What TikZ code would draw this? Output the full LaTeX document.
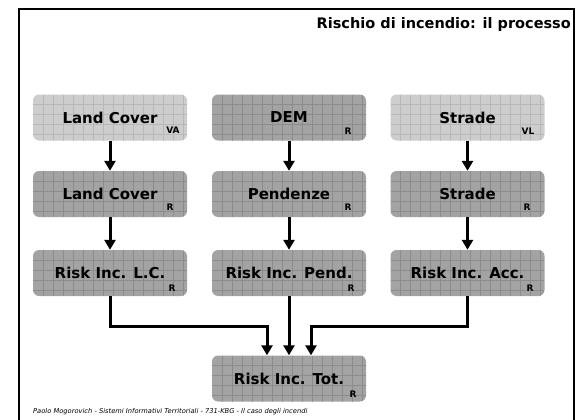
\documentclass[tikz,border=0pt]{standalone}
\usepackage{fontspec}
\setmainfont{DejaVu Sans}
\usetikzlibrary{arrows.meta}
\definecolor{lightfill}{RGB}{205,205,205}
\definecolor{lightgrid}{RGB}{184,184,184}
\definecolor{darkfill}{RGB}{163,163,163}
\definecolor{darkgrid}{RGB}{140,140,140}
\newcommand\boxgridlines[1]{%
  \foreach \k in {1,...,15}{\draw[#1,line width=0.7pt] ([xshift=\k*10pt]path picture bounding box.north west) -- ([xshift=\k*10pt]path picture bounding box.south west);}%
  \foreach \k in {1,...,4}{\draw[#1,line width=0.7pt] ([yshift=-\k*10pt]path picture bounding box.north west) -- ([yshift=-\k*10pt]path picture bounding box.north east);}%
}
\tikzset{
  gisbox/.style={draw=none, rounded corners=6pt, minimum width=154pt, minimum height=46pt,
    inner sep=0pt, font=\fontsize{15}{15}\selectfont\bfseries},
  lightbox/.style={gisbox, fill=lightfill, path picture={\boxgridlines{lightgrid}}},
  darkbox/.style={gisbox, fill=darkfill, path picture={\boxgridlines{darkgrid}}},
  subtag/.style={inner sep=0pt, font=\fontsize{9}{9}\selectfont\bfseries},
  arr/.style={line width=3pt, -{Triangle[length=10pt,width=11pt]}},
  frameline/.style={line width=2.5pt, black},
}
\begin{document}
\begin{tikzpicture}[x=1pt,y=-1pt]
\useasboundingbox (0,0) rectangle (581,420);
% frame
\draw[frameline] (19,420) -- (19,9);
\draw[frameline] (574,9) -- (574,420);
\draw[line width=1.5pt] (18,9) -- (575,9);
% title
\node[anchor=base east, inner sep=0pt, font=\fontsize{14.5}{14.5}\selectfont\bfseries] (title) at (571,29) {Rischio di incendio: il processo};
% row 1
\node[lightbox] (lcva) at (110,117.5) {Land Cover};
\node[darkbox] (dem) at (289,117.5) {DEM};
\node[lightbox] (strvl) at (467.5,117.5) {Strade};
% row 2
\node[darkbox] (lcr) at (110,194) {Land Cover};
\node[darkbox] (pend) at (289,194) {Pendenze};
\node[darkbox] (strr) at (467.5,194) {Strade};
% row 3
\node[darkbox] (rlc) at (110,273) {Risk Inc. L.C.};
\node[darkbox] (rpend) at (289,273) {Risk Inc. Pend.};
\node[darkbox] (racc) at (467.5,273) {Risk Inc. Acc.};
% total
\node[darkbox] (rtot) at (289,378.5) {Risk Inc. Tot.};
% subscripts
\node[subtag] (s1) at (173,130) {VA};
\node[subtag] (s2) at (348,131) {R};
\node[subtag] (s3) at (528,131) {VL};
\node[subtag] (s4) at (170,207) {R};
\node[subtag] (s5) at (348,207) {R};
\node[subtag] (s6) at (527,207) {R};
\node[subtag] (s7) at (172,288) {R};
\node[subtag] (s8) at (351,288) {R};
\node[subtag] (s9) at (530,288) {R};
\node[subtag] (s10) at (353,394) {R};
% connectors
\draw[arr] (lcva.south) -- (lcr.north);
\draw[arr] (dem.south) -- (pend.north);
\draw[arr] (strvl.south) -- (strr.north);
\draw[arr] (lcr.south) -- (rlc.north);
\draw[arr] (pend.south) -- (rpend.north);
\draw[arr] (strr.south) -- (racc.north);
\coordinate (jl) at (267,326);
\coordinate (jr) at (311,326);
\draw[arr] (rlc.south) |- (jl) -- (jl |- rtot.north);
\draw[arr] (rpend.south) -- (rtot.north);
\draw[arr] (racc.south) |- (jr) -- (jr |- rtot.north);
% footer
\node[anchor=base west, inner sep=0pt, font=\fontsize{6.7}{6.7}\selectfont\itshape] (footer) at (33,413) {Paolo Mogorovich - Sistemi Informativi Territoriali - 731-KBG - Il caso degli incendi};
\end{tikzpicture}
\end{document}
